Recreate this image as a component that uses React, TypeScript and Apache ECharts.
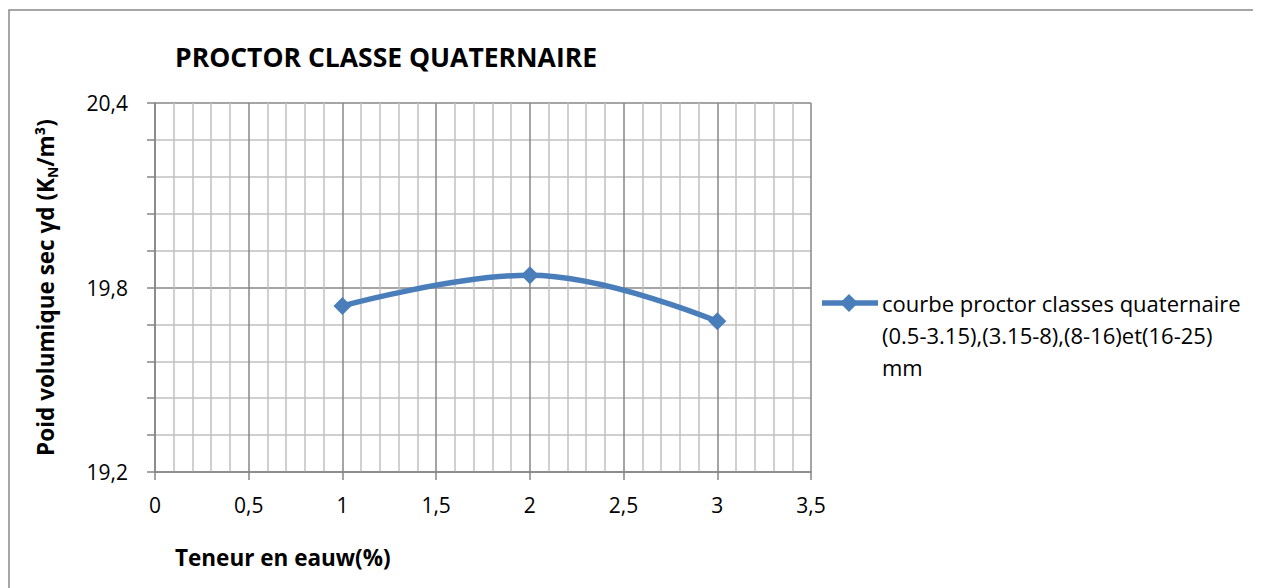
import React, { useEffect, useRef } from "react";
import * as echarts from "echarts";

const xValues = [1, 2, 3];
const yValues = [19.74, 19.84, 19.69];
const seriesName = "courbe proctor classes quaternaire";
const legendLines = ["courbe proctor classes quaternaire", "(0.5-3.15),(3.15-8),(8-16)et(16-25)", "mm"];
const titleText = "PROCTOR CLASSE QUATERNAIRE";
const xAxisTitle = "Teneur en eauw(%)";

const FONT = "'Open Sans', sans-serif";
const BLUE = "#4a7ebb";

export default function App() {
  const ref = useRef<HTMLDivElement>(null);
  useEffect(() => {
    if (!ref.current) return;
    const chart = echarts.init(ref.current, undefined, { renderer: "svg" });
    const fmt = (v: number) => String(Math.round(v * 100) / 100).replace(".", ",");
    chart.setOption({
      animation: false,
      backgroundColor: "#ffffff",
      textStyle: { fontFamily: FONT },
      grid: { left: 147, top: 95, width: 656, height: 369, containLabel: false },
      xAxis: {
        type: "value",
        min: 0,
        max: 3.5,
        interval: 0.5,
        axisLine: { show: true, lineStyle: { color: "#868686", width: 1.5 } },
        axisTick: { show: true, inside: false, length: 8, lineStyle: { color: "#868686", width: 1.5 } },
        minorTick: { show: false, splitNumber: 5 },
        axisLabel: { formatter: fmt, fontSize: 21, color: "#000", margin: 22, fontFamily: FONT },
        splitLine: { show: true, lineStyle: { color: "#878787", width: 1.5 } },
        minorSplitLine: { show: true, lineStyle: { color: "#c0c0c0", width: 1.5 } },
      },
      yAxis: {
        type: "value",
        min: 19.2,
        max: 20.4,
        interval: 0.6,
        name: "{n|Poid volumique sec γd (K}{s|N}{n|/m³)}",
        nameLocation: "middle",
        nameGap: 96,
        nameRotate: 90,
        nameTextStyle: {
          rich: {
            n: { fontSize: 22.5, fontWeight: "bold", color: "#000", fontFamily: FONT, lineHeight: 28, verticalAlign: "middle" },
            s: { fontSize: 14, fontWeight: "bold", color: "#000", fontFamily: FONT, lineHeight: 28, verticalAlign: "bottom", padding: [10, 0, 0, 0] },
          },
        },
        axisLine: { show: true, lineStyle: { color: "#868686", width: 1.5 } },
        axisTick: { show: true, inside: false, length: 8, lineStyle: { color: "#868686", width: 1.5 } },
        minorTick: { show: true, splitNumber: 5, length: 8, lineStyle: { color: "#868686", width: 1.5 } },
        axisLabel: { formatter: fmt, fontSize: 21, color: "#000", margin: 27, fontFamily: FONT },
        splitLine: { show: true, lineStyle: { color: "#878787", width: 1.5 } },
        minorSplitLine: { show: true, lineStyle: { color: "#c0c0c0", width: 1.5 } },
      },
      series: [
        {
          name: seriesName,
          type: "line",
          data: xValues.map((x, i) => [x, yValues[i]]),
          smooth: 0.4,
          symbol: "diamond",
          symbolSize: 18,
          lineStyle: { color: BLUE, width: 5.5 },
          itemStyle: { color: BLUE },
        },
      ],
      graphic: [
        {
          type: "rect",
          shape: { x: 1, y: 2, width: 1400, height: 800 },
          style: { fill: "none", stroke: "#898989", lineWidth: 1.5 },
          silent: true,
        },
        {
          type: "text",
          x: 167,
          y: 49,
          style: { text: titleText, font: `bold 26.5px ${FONT}`, fill: "#000", verticalAlign: "middle", align: "left" },
        },
        {
          type: "text",
          x: 167,
          y: 549,
          style: { text: xAxisTitle, font: `bold 22.5px ${FONT}`, fill: "#000", verticalAlign: "middle", align: "left" },
        },
        {
          type: "line",
          shape: { x1: 814, y1: 295, x2: 870, y2: 295 },
          style: { stroke: BLUE, lineWidth: 5.5 },
        },
        {
          type: "polygon",
          shape: { points: [[841, 286], [850, 295], [841, 304], [832, 295]] },
          style: { fill: BLUE },
        },
        ...legendLines.map((t, i) => ({
          type: "text",
          x: 874,
          y: 295 + i * 32,
          style: { text: t, font: `22px ${FONT}`, fill: "#000", verticalAlign: "middle", align: "left" },
        })),
      ],
    });
    return () => chart.dispose();
  }, []);
  return <div ref={ref} style={{ width: 1253, height: 580 }} />;
}
